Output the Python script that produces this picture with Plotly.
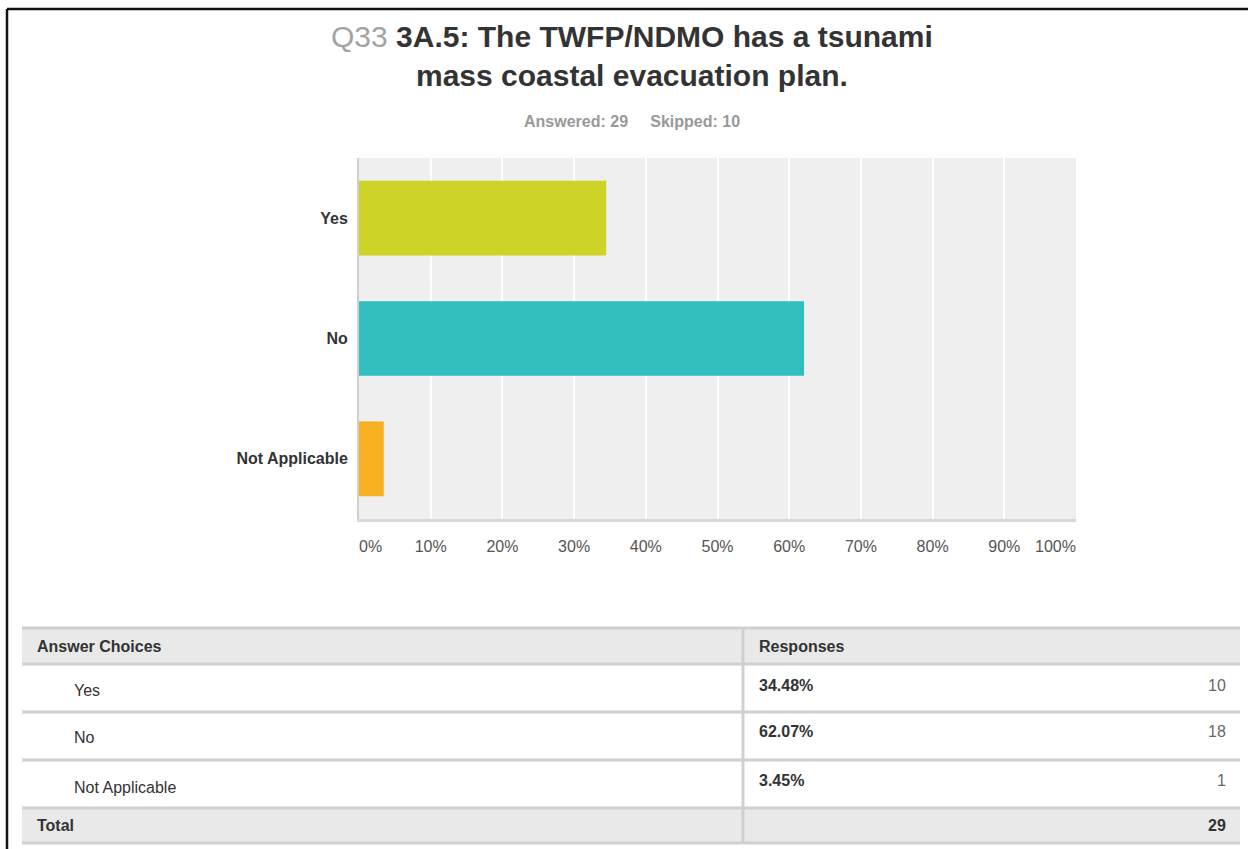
import plotly.graph_objects as go

# ---- data ----
categories = ["Yes", "No", "Not Applicable"]
percentages = [34.48, 62.07, 3.45]
counts = [10, 18, 1]
total = 29
answered = 29
skipped = 10
bar_colors = ["#CDD427", "#32BDBF", "#F7B01F"]
tick_values = [0, 10, 20, 30, 40, 50, 60, 70, 80, 90, 100]
tick_labels = [f"{v}%" for v in tick_values]
question_no = "Q33"
title_line1 = "3A.5: The TWFP/NDMO has a tsunami"
title_line2 = "mass coastal evacuation plan."

W, H = 1248, 849
X0, X1, Y0, Y1 = 359, 1076, 158, 519
FONT = "Arial, 'Liberation Sans', Helvetica, sans-serif"


def px(x):
    return (x - X0) / (X1 - X0)


def py(y):
    return (Y1 - y) / (Y1 - Y0)


fig = go.Figure()
fig.add_trace(go.Bar(
    y=categories, x=percentages, orientation="h",
    marker=dict(color=bar_colors, line=dict(width=0)),
    hoverinfo="skip", showlegend=False,
))

fig.update_layout(
    width=W, height=H,
    margin=dict(l=X0, r=W - X1, t=Y0, b=H - Y1, pad=0),
    paper_bgcolor="white", plot_bgcolor="#efefef",
    bargap=0.38,
    font=dict(family=FONT, size=16, color="#333333"),
)

inner_ticks = tick_values[1:-1]
fig.update_xaxes(
    range=[0, 100], tickvals=inner_ticks,
    ticktext=[tick_labels[tick_values.index(v)] for v in inner_ticks],
    showgrid=True, gridcolor="white", gridwidth=2,
    zeroline=False, showline=True, linecolor="#d9d9d9", linewidth=3,
    ticks="", ticklabelstandoff=11,
    tickfont=dict(size=16, color="#555555"), fixedrange=True,
)
fig.update_yaxes(
    autorange="reversed", showgrid=False, zeroline=False,
    showline=True, linecolor="#d0d0d0", linewidth=2,
    ticks="", ticklabelstandoff=6,
    tickfont=dict(size=16, color="#333333", weight="bold"), fixedrange=True,
)

ann = []
# end tick labels (inset like the original)
ann.append(dict(x=tick_values[0], xref="x", y=py(546), yref="paper",
                text=tick_labels[0], showarrow=False, xanchor="left", yanchor="middle",
                xshift=-2, font=dict(size=16, color="#555555")))
ann.append(dict(x=tick_values[-1], xref="x", y=py(546), yref="paper",
                text=tick_labels[-1], showarrow=False, xanchor="right", yanchor="middle",
                xshift=2, font=dict(size=16, color="#555555")))

# title
ann.append(dict(
    x=px(632), y=py(56.5), xref="paper", yref="paper", showarrow=False,
    xanchor="center", yanchor="middle", align="center",
    text=(f"<span style='color:#a3a3a3'>{question_no}</span> <b>{title_line1}</b>"
          f"<br><b>{title_line2}</b>"),
    font=dict(size=30, color="#333333"),
))
ann.append(dict(
    x=px(632), y=py(121), xref="paper", yref="paper", showarrow=False,
    xanchor="center", yanchor="middle",
    text=f"<b>Answered: {answered}</b>&nbsp;&nbsp;&nbsp;&nbsp;&nbsp;<b>Skipped: {skipped}</b>",
    font=dict(size=16, color="#999999"),
))

shapes = []
# outer frame
shapes.append(dict(type="line", xref="paper", yref="paper", x0=px(7), x1=px(1250),
                   y0=py(9), y1=py(9), line=dict(color="#111111", width=2.5)))
shapes.append(dict(type="line", xref="paper", yref="paper", x0=px(7), x1=px(7),
                   y0=py(9), y1=py(852), line=dict(color="#111111", width=2.5)))

# table
TL, TR, TC = 22, 1240, 743
row_edges = [628, 664, 712, 760, 808, 843]
shapes.append(dict(type="rect", xref="paper", yref="paper", x0=px(TL), x1=px(TR),
                   y0=py(row_edges[0]), y1=py(row_edges[1]),
                   fillcolor="#e9e9e9", line=dict(width=0), layer="below"))
shapes.append(dict(type="rect", xref="paper", yref="paper", x0=px(TL), x1=px(TR),
                   y0=py(row_edges[-2]), y1=py(row_edges[-1]),
                   fillcolor="#e9e9e9", line=dict(width=0), layer="below"))
for ye in row_edges:
    shapes.append(dict(type="line", xref="paper", yref="paper", x0=px(TL), x1=px(TR),
                       y0=py(ye), y1=py(ye), line=dict(color="#d0d0d0", width=3)))
shapes.append(dict(type="line", xref="paper", yref="paper", x0=px(TC), x1=px(TC),
                   y0=py(row_edges[0]), y1=py(row_edges[-1]),
                   line=dict(color="#d0d0d0", width=3)))


def txt(x, y, s, anchor="left", bold=False, color="#333333", size=16):
    shift = -3 if anchor == "left" else 3
    return dict(x=px(x), y=py(y), xref="paper", yref="paper", showarrow=False,
                xanchor=anchor, yanchor="middle", xshift=shift,
                text=f"<b>{s}</b>" if bold else s,
                font=dict(size=size, color=color))


ann.append(txt(38, 646, "Answer Choices", bold=True))
ann.append(txt(760, 646, "Responses", bold=True))
label_y = [690, 737, 787]
value_y = [685, 731, 780]
for i, cat in enumerate(categories):
    ann.append(txt(75, label_y[i], cat))
    ann.append(txt(760, value_y[i], f"{percentages[i]:.2f}%", bold=True))
    ann.append(txt(1225, value_y[i], str(counts[i]), anchor="right", color="#666666"))
ann.append(txt(38, 825, "Total", bold=True))
ann.append(txt(1225, 825, str(total), anchor="right", bold=True))

fig.update_layout(annotations=ann, shapes=shapes)
fig.write_html("out.html", config={"displayModeBar": False},
               post_script="document.body.style.margin='0';document.body.style.padding='0';")
